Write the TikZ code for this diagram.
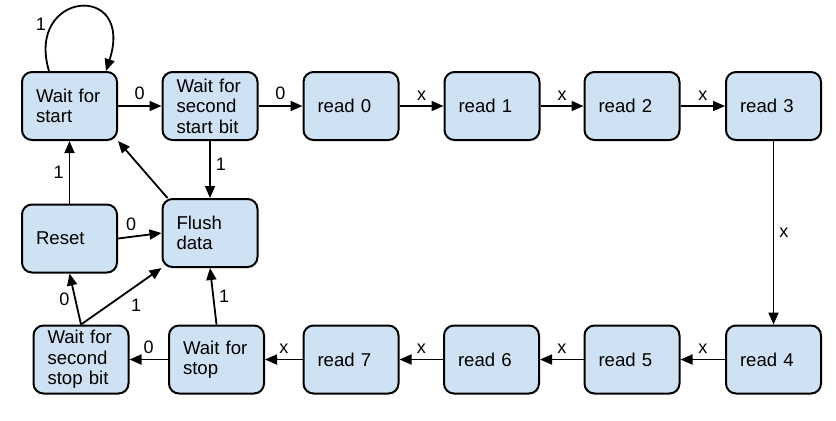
\documentclass[tikz,border=0pt]{standalone}
\usepackage{fontspec}
\setmainfont{Liberation Sans}
\usetikzlibrary{arrows.meta}
\definecolor{boxblue}{HTML}{CFE2F3}

\begin{document}
\begin{tikzpicture}[x=0.5pt, y=-0.5pt,
    state/.style={draw, line width=1pt, rounded corners=5pt, fill=boxblue,
      minimum width=47.5pt, minimum height=34pt, inner xsep=7pt, inner ysep=1pt,
      text width=33.5pt, align=left, font=\fontsize{9.3}{10.3}\selectfont},
    arr/.style={-{Triangle[length=6pt, width=5pt]}, line width=0.9pt},
    lbl/.style={font=\fontsize{9}{10}\selectfont, inner sep=2.5pt}]
    \useasboundingbox (0, 0) rectangle (836, 420);

    % top row
    \node[state] (wfs) at (69.5, 106) {Wait for\\start};
    \node[state] (wssb) at (210, 106) {Wait for\\second\\start bit};
    \node[state] (read0) at (351, 106) {read 0};
    \node[state] (read1) at (492, 106) {read 1};
    \node[state] (read2) at (632, 106) {read 2};
    \node[state] (read3) at (773.5, 106) {read 3};

    % middle
    \node[state] (reset) at (69.5, 238.5) {Reset};
    \node[state] (flush) at (210, 233) {Flush\\data};

    % bottom row
    \node[state] (wfssb) at (81, 359.5) {Wait for\\second\\stop bit};
    \node[state] (wfstop) at (216.5, 359.5) {Wait for\\stop};
    \node[state] (read7) at (351, 359.5) {read 7};
    \node[state] (read6) at (491.5, 359.5) {read 6};
    \node[state] (read5) at (632, 359.5) {read 5};
    \node[state] (read4) at (773.5, 359.5) {read 4};

    \draw[arr] ([xshift=-10.25pt]wfs.north) .. controls +(-24, -80) and +(29, -90) .. ([xshift=18.25pt]wfs.north)
      node[lbl, pos=0.25, left] {1};
    \draw[arr] (wfs) -- node[lbl, above] {0} (wssb);
    \draw[arr] (wssb) -- node[lbl, above] {0} (read0);

    \foreach \a/\b in {read0/read1, read1/read2, read2/read3, read4/read5, read5/read6, read6/read7, read7/wfstop}
      \draw[arr] (\a) -- node[lbl, above] {x} (\b);
    \draw[arr] (read3) -- node[lbl, right] {x} (read4);

    \draw[arr] (wfstop) -- node[lbl, above] {0} (wfssb);
    \draw[arr] (wssb) -- node[lbl, right, pos=0.4] {1} (flush);
    \draw[arr] ([xshift=3pt]flush.north west) -- (wfs.south east);
    \draw[arr] (reset.east) -- node[lbl, above, pos=0.3] {0} (flush.west);
    \draw[arr] (reset) -- node[lbl, left] {1} (wfs);
    \draw[arr] (wfssb.north) -- node[lbl, left] {0} (reset.south);
    \draw[arr] (wfssb.north) -- node[lbl, below right, pos=0.55] {1} (flush.south west);
    \draw[arr] (wfstop.north) -- node[lbl, right] {1} (flush.south);
  \end{tikzpicture}
\end{document}
